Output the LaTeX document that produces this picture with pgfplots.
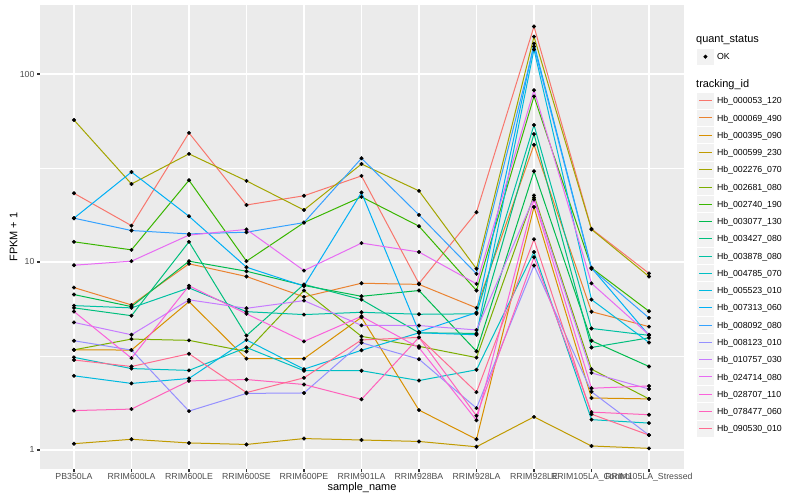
\documentclass[border=0pt]{standalone}
\usepackage{fontspec}
\setmainfont{Liberation Sans}
\usepackage{pgfplots}
\usepackage{pgfplotstable}
\pgfplotsset{compat=1.18}

% ggplot hue palette, 20 levels
\definecolor{c1}{HTML}{F8766D}
\definecolor{c2}{HTML}{EA8331}
\definecolor{c3}{HTML}{D89000}
\definecolor{c4}{HTML}{C09B00}
\definecolor{c5}{HTML}{A3A500}
\definecolor{c6}{HTML}{7CAE00}
\definecolor{c7}{HTML}{39B600}
\definecolor{c8}{HTML}{00BB4E}
\definecolor{c9}{HTML}{00BF7D}
\definecolor{c10}{HTML}{00C1A3}
\definecolor{c11}{HTML}{00BFC4}
\definecolor{c12}{HTML}{00BAE0}
\definecolor{c13}{HTML}{00B0F6}
\definecolor{c14}{HTML}{35A2FF}
\definecolor{c15}{HTML}{9590FF}
\definecolor{c16}{HTML}{C77CFF}
\definecolor{c17}{HTML}{E76BF3}
\definecolor{c18}{HTML}{FA62DB}
\definecolor{c19}{HTML}{FF62BC}
\definecolor{c20}{HTML}{FF6C91}
\definecolor{ggpanel}{HTML}{EBEBEB}
\definecolor{ggkey}{HTML}{F2F2F2}
\definecolor{ggtick}{HTML}{333333}
\definecolor{ggtext}{HTML}{4D4D4D}

% FPKM + 1 per sample (rows) and tracking id (columns s1..s20, legend order)
\pgfplotstableread{
x  s1   s2   s3   s4   s5   s6   s7   s8   s9   s10  s11  s12  s13  s14  s15  s16  s17  s18  s19  s20
0  23.2 7.31 3.41 1.08 56.9 3.41 12.8 6.71 5.70 5.86 3.11 2.48 17.1 17.1 3.81 4.77 9.61 5.45 1.62 3.01
1  15.6 5.91 3.40 1.14 26.0 3.89 11.6 5.79 5.18 5.70 2.71 2.26 30.1 14.7 3.40 4.10 10.1 3.08 1.65 2.78
2  48.6 9.78 6.15 1.09 37.6 3.83 27.2 10.1 12.8 7.28 2.65 2.40 17.5 14.1 1.61 6.29 13.9 7.47 2.33 3.25
3  20.1 8.37 3.06 1.07 27.0 3.34 10.1 8.93 4.06 5.44 3.51 3.85 9.38 14.4 2.00 5.67 14.9 5.30 2.37 2.02
4  22.5 6.52 3.06 1.15 18.9 7.05 16.2 7.50 7.60 5.25 2.64 2.69 7.45 16.2 2.01 6.23 9.00 3.78 2.23 2.42
5  28.7 7.71 5.08 1.13 33.2 4.02 22.2 6.57 6.31 5.40 2.64 3.39 23.4 35.6 3.72 4.60 12.6 5.14 1.86 3.85
6  7.68 7.60 1.63 1.11 23.9 3.56 15.5 7.05 4.20 5.27 2.34 4.20 4.25 17.8 3.04 4.59 11.3 3.50 3.97 3.97
7  18.4 5.70 1.14 1.04 9.20 3.10 7.05 3.35 4.17 5.30 2.67 4.10 5.38 8.65 1.67 4.35 7.65 1.44 1.52 2.03
8  179  42.0 19.6 1.50 158  22.6 76.0 30.4 47.9 53.5 11.3 135  145  140  9.58 22.0 82.0 21.5 10.6 13.2
9  15.0 5.44 1.89 1.05 14.9 2.69 9.30 3.81 3.51 4.43 1.45 6.31 9.30 9.20 2.04 2.57 7.70 2.13 1.59 1.55
10 8.70 4.53 1.87 1.02 8.37 1.87 5.47 2.78 3.95 4.07 1.39 3.73 4.07 5.04 1.20 2.11 4.10 2.19 1.54 1.20
}\fpkm

\begin{document}
\begin{tikzpicture}
\path[use as bounding box, fill=white] (0,0) rectangle (800bp,500bp);

\begin{axis}[
    at={(40bp,31bp)}, anchor=south west,
    scale only axis, width=644bp, height=464bp,
    ymode=log, ymin=0.7922, ymax=232.8,
    xmin=-0.591, xmax=10.609,
    xtick={0,...,10},
    xticklabels={PB350LA,RRIM600LA,RRIM600LE,RRIM600SE,RRIM600PE,RRIM901LA,RRIM928BA,RRIM928LA,RRIM928LE,RRIM105LA\_Control,RRIM105LA\_Stressed},
    ytick={1,10,100}, yticklabels={1,10,100},
    minor ytick={3.1623,31.623},
    xmajorgrids, ymajorgrids, yminorgrids,
    major grid style={white, line width=1.07bp},
    minor grid style={white, line width=0.53bp},
    axis background/.style={fill=ggpanel},
    axis line style={draw=none},
    tick align=outside, xtick pos=left, ytick pos=left,
    major tick length=2.75bp, minor tick length=0pt,
    tick style={color=ggtick, line width=1.07bp},
    tick label style={font=\fontsize{8.8}{10}\selectfont, text=ggtext},
    xticklabel style={anchor=north, inner sep=0pt},
    yticklabel style={anchor=east, inner sep=0pt},
    xticklabel shift=1.6bp, yticklabel shift=2.55bp,
    xlabel={sample\_name}, ylabel={FPKM + 1},
    label style={font=\fontsize{11}{13}\selectfont, text=black},
    xlabel style={at={(axis description cs:0.5,-0.04741)}, anchor=base},
    ylabel style={at={(axis description cs:-0.03494,0.5)}, anchor=base},
    legend cell align=left,
    legend style={at={(1.02065,0.81235)}, anchor=north west, draw=none, fill=none,
        inner sep=0pt, outer sep=0pt, row sep=0pt, column sep=0pt,
        font=\fontsize{8.8}{10}\selectfont,
        nodes={inner sep=0pt, text height=6.3bp, text depth=0pt}},
    legend image code/.code={%
        \path[draw=none, fill=none] (0bp,-8.63bp) rectangle (19.7bp,8.63bp);
        \fill[ggkey, draw=none] (0bp,-8.14bp) rectangle (16.3bp,8.14bp);
        \draw[#1] (1.7bp,0bp) -- (14.5bp,0bp);},
    legend entries={Hb\_000053\_120,Hb\_000069\_490,Hb\_000395\_090,Hb\_000599\_230,
        Hb\_002276\_070,Hb\_002681\_080,Hb\_002740\_190,Hb\_003077\_130,
        Hb\_003427\_080,Hb\_003878\_080,Hb\_004785\_070,Hb\_005523\_010,
        Hb\_007313\_060,Hb\_008092\_080,Hb\_008123\_010,Hb\_010757\_030,
        Hb\_024714\_080,Hb\_028707\_110,Hb\_078477\_060,Hb\_090530\_010},
]
% lines first, points on top (as geom_line + geom_point)
\pgfplotsinvokeforeach{1,...,20}{
    \addplot[color=c#1, line width=1bp, mark=none] table[x=x, y=s#1]{\fpkm};
}
\pgfplotsinvokeforeach{1,...,20}{
    \addplot[forget plot, only marks, mark=*, mark size=1.8bp, black] table[x=x, y=s#1]{\fpkm};
}
\end{axis}

% quant_status legend
\begin{axis}[
    at={(40bp,31bp)}, anchor=south west,
    scale only axis, width=644bp, height=464bp,
    hide axis, xmin=0, xmax=1, ymin=0, ymax=1,
    legend cell align=left,
    legend style={at={(1.02065,0.90718)}, anchor=north west, draw=none, fill=none,
        inner sep=0pt, outer sep=0pt, row sep=0pt, column sep=0pt,
        font=\fontsize{8.8}{10}\selectfont,
        nodes={inner sep=0pt, text height=6.3bp, text depth=0pt}},
    legend image code/.code={%
        \path[draw=none, fill=none] (0bp,-8.63bp) rectangle (19.7bp,8.63bp);
        \fill[ggkey, draw=none] (0bp,-8.14bp) rectangle (16.3bp,8.14bp);
        \draw[#1] plot coordinates {(8.15bp,0bp)};},
]
\addlegendimage{only marks, mark=*, mark size=1.8bp, black}
\addlegendentry{OK}
\end{axis}

\node[anchor=west, inner sep=0pt, font=\fontsize{11}{13}\selectfont] at (696bp,459.4bp) {quant\_status};
\node[anchor=west, inner sep=0pt, font=\fontsize{11}{13}\selectfont] at (696bp,415.6bp) {tracking\_id};
\end{tikzpicture}
\end{document}
